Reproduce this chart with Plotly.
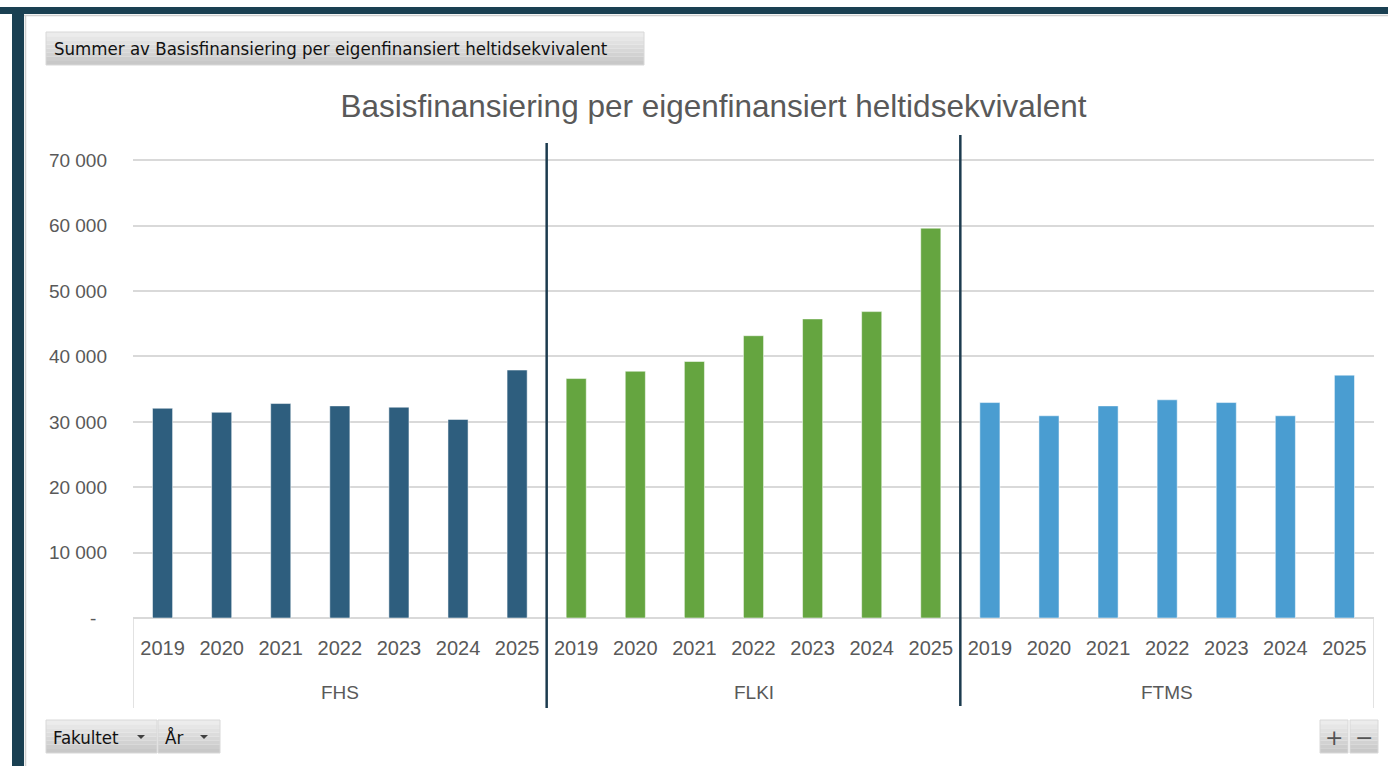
import plotly.graph_objects as go

# ---- data ----
faculties = ["FHS", "FLKI", "FTMS"]
years = ["2019", "2020", "2021", "2022", "2023", "2024", "2025"]
fhs = [32080, 31460, 32800, 32440, 32240, 30370, 37920]
flki = [36620, 37740, 39230, 43170, 45740, 46860, 59620]
ftms = [32950, 30930, 32440, 33370, 32950, 30930, 37140]
series = [fhs, flki, ftms]
colors = ["#2E5E7E", "#65A540", "#4A9DD1"]
y_ticks = [0, 10000, 20000, 30000, 40000, 50000, 60000, 70000]

W, H = 1388, 766
ML, MR, MT, MB = 133, 14, 159, 148
PW, PH = W - ML - MR, H - MT - MB


def px(x):
    return (x - ML) / PW


def py(y):
    return (H - MB - y) / PH


fig = go.Figure()
n = len(years)
for i, (fac, vals, col) in enumerate(zip(faculties, series, colors)):
    xs = [i * n + j for j in range(n)]
    fig.add_trace(go.Bar(
        x=xs, y=vals, name=fac, width=0.34,
        marker=dict(color=col, line=dict(color="rgba(255,255,255,0.5)", width=1)),
        showlegend=False,
    ))

total = n * len(faculties)
tickvals = list(range(total))
ticktext = years * len(faculties)

ytext = [("-\u00a0\u00a0" if v == 0 else f"{v:,}".replace(",", " ")) for v in y_ticks]

shapes = []
annotations = []

# frame (top and left bars)
shapes.append(dict(type="rect", xref="paper", yref="paper", x0=px(0), x1=px(W), y0=py(14), y1=py(7),
                   fillcolor="#1A4052", line=dict(width=0), layer="above"))
shapes.append(dict(type="rect", xref="paper", yref="paper", x0=px(12), x1=px(24), y0=py(H + 2), y1=py(7),
                   fillcolor="#1A4052", line=dict(width=0), layer="above"))
shapes.append(dict(type="line", xref="paper", yref="paper", x0=px(24), x1=px(W), y0=py(15.5), y1=py(15.5),
                   line=dict(color="#D0D0D0", width=1.5)))
shapes.append(dict(type="line", xref="paper", yref="paper", x0=px(25.5), x1=px(25.5), y0=py(H), y1=py(15),
                   line=dict(color="#D0D0D0", width=1.5)))

# top gridline (70 000)
shapes.append(dict(type="line", xref="paper", yref="y", x0=0, x1=1, y0=y_ticks[-1], y1=y_ticks[-1],
                   line=dict(color="#D9D9D9", width=1.5), layer="below"))

# axis box edges below plot
for xv in (-0.5, total - 0.5):
    shapes.append(dict(type="line", xref="x", yref="paper", x0=xv, x1=xv, y0=py(708), y1=0,
                       line=dict(color="#D9D9D9", width=1.5)))

# dark group separators
sep_tops = [143, 135]
sep_bots = [708, 706]
for k in range(1, len(faculties)):
    xv = k * n - 0.5
    shapes.append(dict(type="line", xref="x", yref="paper", x0=xv, x1=xv,
                       y0=py(sep_bots[k - 1]), y1=py(sep_tops[k - 1]),
                       line=dict(color="#1C3B4F", width=2.5), layer="above"))

# group labels
for i, fac in enumerate(faculties):
    annotations.append(dict(x=i * n + (n - 1) / 2, y=py(692), xref="x", yref="paper",
                            text=fac, showarrow=False, yanchor="middle",
                            font=dict(family="Liberation Sans", size=19, color="#595959")))


# buttons
def button(x0, x1, y0, y1):
    steps = 8
    top = (236, 236, 236)
    bot = (200, 200, 200)
    for s in range(steps):
        t = s / (steps - 1)
        c = tuple(int(top[k] + (bot[k] - top[k]) * t) for k in range(3))
        ya = y0 + (y1 - y0) * s / steps
        yb = y0 + (y1 - y0) * (s + 1) / steps
        shapes.append(dict(type="rect", xref="paper", yref="paper", x0=px(x0), x1=px(x1),
                           y0=py(yb), y1=py(ya), fillcolor="rgb(%d,%d,%d)" % c,
                           line=dict(width=0)))
    shapes.append(dict(type="rect", xref="paper", yref="paper", x0=px(x0), x1=px(x1),
                       y0=py(y1), y1=py(y0), line=dict(color="#D8D8D8", width=1)))


def tri(cx, cy, s=4):
    shapes.append(dict(type="path", xref="paper", yref="paper",
                       path="M %f %f L %f %f L %f %f Z" % (px(cx - s), py(cy - s / 2), px(cx + s), py(cy - s / 2),
                                                          px(cx), py(cy + s / 2)),
                       fillcolor="#404040", line=dict(width=0)))


button(46, 644, 32, 65)
annotations.append(dict(x=px(52), y=py(48.5), xref="paper", yref="paper", xanchor="left", yanchor="middle",
                        text="Summer av Basisfinansiering per eigenfinansiert heltidsekvivalent",
                        showarrow=False, font=dict(family="DejaVu Sans Condensed", size=18.5, color="#111111")))

button(46, 157, 720, 753)
button(158, 220, 720, 753)
annotations.append(dict(x=px(51), y=py(737), xref="paper", yref="paper", xanchor="left", yanchor="middle",
                        text="Fakultet", showarrow=False,
                        font=dict(family="DejaVu Sans Condensed", size=18.5, color="#111111")))
tri(141, 737)
annotations.append(dict(x=px(163), y=py(737), xref="paper", yref="paper", xanchor="left", yanchor="middle",
                        text="År", showarrow=False,
                        font=dict(family="DejaVu Sans Condensed", size=18.5, color="#111111")))
tri(204, 737)

button(1320, 1348, 720, 753)
button(1350, 1378, 720, 753)
annotations.append(dict(x=px(1334), y=py(737), xref="paper", yref="paper", xanchor="center", yanchor="middle",
                        text="+", showarrow=False, font=dict(family="DejaVu Sans", size=22, color="#555555")))
annotations.append(dict(x=px(1364), y=py(737), xref="paper", yref="paper", xanchor="center", yanchor="middle",
                        text="\u2212", showarrow=False, font=dict(family="DejaVu Sans", size=22, color="#555555")))

fig.update_layout(
    width=W, height=H,
    margin=dict(l=ML, r=MR, t=MT, b=MB, pad=0),
    paper_bgcolor="white", plot_bgcolor="white",
    barmode="overlay",
    title=dict(text="Basisfinansiering per eigenfinansiert heltidsekvivalent",
               xref="container", yref="container", x=713.5 / W, y=1 - 106 / H,
               xanchor="center", yanchor="middle",
               font=dict(family="Liberation Sans", size=31.5, color="#595959")),
    xaxis=dict(range=[-0.5, total - 0.5], tickvals=tickvals, ticktext=ticktext,
               showgrid=False, zeroline=False, showline=False, ticks="",
               tickfont=dict(family="Liberation Sans", size=20, color="#595959"),
               ticklabelstandoff=16),
    yaxis=dict(range=[0, 70200], tickvals=y_ticks, ticktext=ytext,
               showgrid=True, gridcolor="#D9D9D9", gridwidth=1.5,
               zeroline=True, zerolinecolor="#D9D9D9", zerolinewidth=1.5,
               showline=False, ticks="",
               tickfont=dict(family="Liberation Sans", size=19, color="#595959"),
               ticklabelstandoff=25),
    shapes=shapes, annotations=annotations,
)

fig.write_html("out.html", config={"displayModeBar": False},
               post_script="document.body.style.margin='0';document.body.style.overflow='hidden';")
